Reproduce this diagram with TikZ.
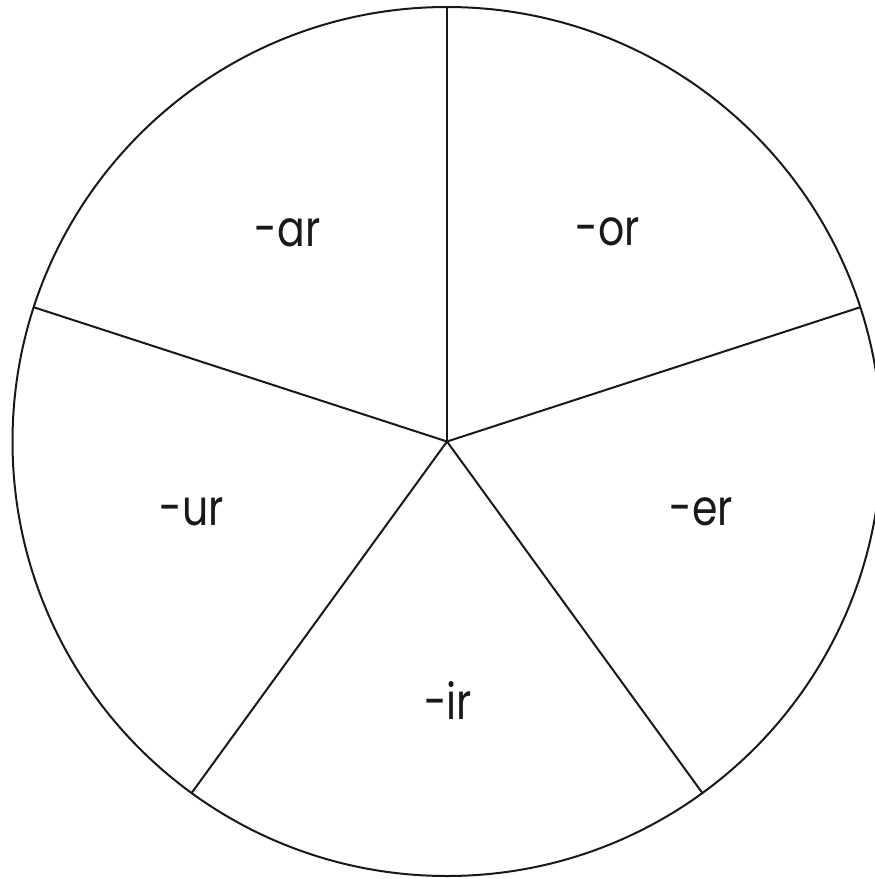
\documentclass[tikz,border=0pt]{standalone}
\usepackage{fontspec}
\setmainfont{Poppins}[FakeStretch=0.82]
\usetikzlibrary{calc}
\begin{document}
\begin{tikzpicture}[x=1pt,y=-1pt,
  rim/.style={draw=black!90,line width=2pt},
  spoke/.style={draw=black!90,line width=2pt},
  lbl/.style={anchor=base,inner sep=0pt,font=\fontsize{50}{60}\selectfont,text=black!90}]
\useasboundingbox (0,0) rectangle (875,879);
\coordinate (c) at (447,441.5);
\draw[rim] (c) circle[radius=434.5];
\foreach \a/\n in {90/p1,18/p2,-54/p3,-126/p4,162/p5}{
  \coordinate (\n) at ($(c)+({434.5*cos(\a)},{-434.5*sin(\a)})$);
}
\draw[spoke] (c) -- (p1);
\draw[spoke] (c) -- (p2);
\draw[spoke] (c) -- (p3);
\draw[spoke] (c) -- (p4);
\draw[spoke] (c) -- (p5);
\node[lbl] (ar) at (287.5,246.5) {-ar};
\node[lbl] (or) at (608,245) {-or};
\node[lbl] (er) at (701.5,525) {-er};
\node[lbl] (ir) at (448,719) {-ir};
\node[lbl] (ur) at (191.5,525) {-ur};
\end{tikzpicture}
\end{document}
